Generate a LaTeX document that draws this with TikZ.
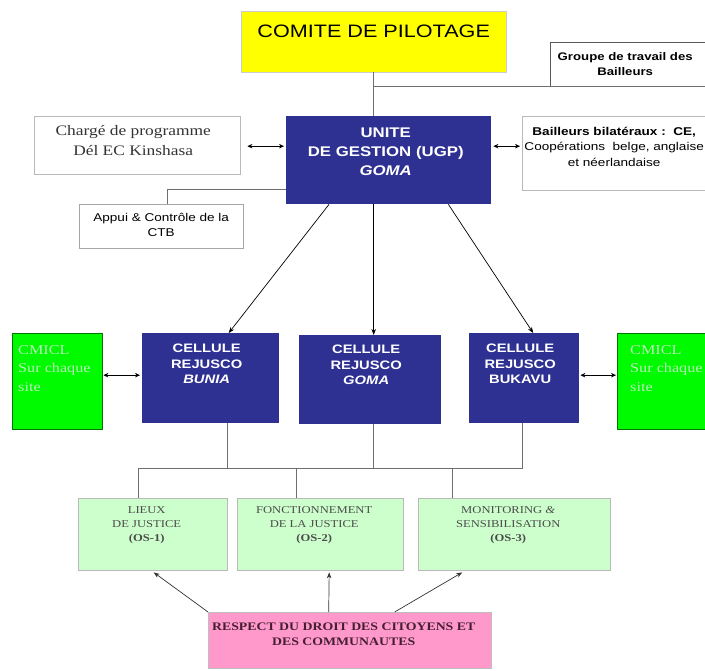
\documentclass[tikz,border=0pt]{standalone}
\usepackage{fontspec}
\setmainfont{Liberation Serif}[FakeStretch=1.2]
\setsansfont{Liberation Sans}[FakeStretch=1.2]
\usepackage{tikz}
\usetikzlibrary{arrows.meta,positioning,calc}

\definecolor{navy}{RGB}{46,49,146}
\definecolor{pilotyellow}{RGB}{255,255,0}
\definecolor{sitegreen}{RGB}{0,250,0}
\definecolor{sitetext}{RGB}{185,240,185}
\definecolor{palegreen}{RGB}{204,255,204}
\definecolor{rosebox}{RGB}{255,153,204}
\definecolor{rosetext}{RGB}{70,30,50}
\definecolor{linegray}{RGB}{110,110,110}

\begin{document}
\begin{tikzpicture}[
  x=1pt, y=-1pt,
  box/.style={rectangle, anchor=north west, inner sep=0pt},
  navybox/.style={box, fill=navy},
  whitebox/.style={box, draw=gray!55, fill=white},
  sitebox/.style={box, fill=sitegreen, draw=green!45!black},
  osbox/.style={box, fill=palegreen, draw=gray!55, minimum height=72pt},
  txt/.style={inner sep=0pt, align=center},
  navytxt/.style={txt, text=white, font=\sffamily\bfseries\fontsize{12.3}{15.5}\selectfont, xshift=-4pt},
  sitetxt/.style={txt, align=left, text=sitetext, font=\fontsize{13.5}{18.5}\selectfont},
  ostxt/.style={txt, text=black!70, font=\fontsize{10.5}{14}\selectfont, xshift=-6pt},
  link/.style={draw=linegray, line width=0.8pt},
  arrow/.style={-{Stealth[length=6pt, width=4.5pt]}, line width=0.7pt},
  dblarrow/.style={{Stealth[length=5pt, width=4.5pt]}-{Stealth[length=5pt, width=4.5pt]}, line width=0.7pt},
]
\fill[white] (0,0) rectangle (705,671);
\useasboundingbox (0,0) rectangle (705,671);

% boxes
\node[box, fill=pilotyellow, draw=gray!40, minimum width=265pt, minimum height=61pt] (pilotage) at (241,11) {};
\node[box, draw=gray!70!black, fill=white, minimum width=162pt, minimum height=44pt] (groupe) at (550,42) {};
\node[whitebox, minimum width=206pt, minimum height=58pt] (charge) at (34,116) {};
\node[navybox, minimum width=205pt, minimum height=88pt] (ugp) at (286,116) {};
\node[whitebox, minimum width=190pt, minimum height=74pt] (bailleurs) at (522,116) {};
\node[whitebox, draw=gray!70, minimum width=164pt, minimum height=44pt] (appui) at (79,204) {};
\node[sitebox, minimum width=90pt, minimum height=96pt] (siteL) at (12,333) {};
\node[navybox, minimum width=137pt, minimum height=90pt] (bunia) at (142,333) {};
\node[navybox, minimum width=142pt, minimum height=89pt] (goma) at (299,335) {};
\node[navybox, minimum width=110pt, minimum height=90pt] (bukavu) at (469,333) {};
\node[sitebox, minimum width=95pt, minimum height=96pt] (siteR) at (617,333) {};
\node[osbox, minimum width=149pt] (lieux) at (78,498) {};
\node[osbox, minimum width=166pt] (fonct) at (237,498) {};
\node[osbox, minimum width=192pt] (monit) at (418,498) {};
\node[box, fill=rosebox, draw=gray!50, minimum width=283pt, minimum height=56pt] (droit) at (208,612) {};

% texts
\node[txt, font=\sffamily\fontsize{18}{22}\selectfont, below=14pt of pilotage.north] (pilotagetxt) {COMITE DE PILOTAGE};
\node[txt, font=\sffamily\bfseries\fontsize{11}{15.5}\selectfont, below=10pt of groupe.north, xshift=-6pt] (groupetxt) {Groupe de travail des\\Bailleurs};
\node[txt, text=black!80, font=\fontsize{14.5}{20}\selectfont, below=9pt of charge.north, xshift=-4pt] (chargetxt) {Chargé de programme\\Dél EC Kinshasa};
\node[txt, text=white, font=\sffamily\bfseries\fontsize{14}{19}\selectfont, below=12pt of ugp.north, xshift=-3pt] (ugptxt) {UNITE\\DE GESTION (UGP)\\\textit{GOMA}};
\node[txt, font=\sffamily\fontsize{11.3}{15.5}\selectfont, below=11pt of bailleurs.north, xshift=-3pt] (bailleurstxt) {\textbf{Bailleurs bilatéraux :~~CE,}\\Coopérations~~belge, anglaise\\et néerlandaise};
\node[txt, font=\sffamily\fontsize{11.3}{15}\selectfont, below=9pt of appui.north] (appuitxt) {Appui \& Contrôle de la\\CTB};
\node[sitetxt, below right=12pt and 6pt of siteL.north west] (siteLtxt) {CMICL\\Sur chaque\\site};
\node[navytxt, below=11pt of bunia.north] (buniatxt) {CELLULE\\REJUSCO\\\textit{BUNIA}};
\node[navytxt, below=10pt of goma.north] (gomatxt) {CELLULE\\REJUSCO\\\textit{GOMA}};
\node[navytxt, below=11pt of bukavu.north] (bukavutxt) {CELLULE\\REJUSCO\\BUKAVU};
\node[sitetxt, below right=12pt and 13pt of siteR.north west] (siteRtxt) {CMICL\\Sur chaque\\site};
\node[ostxt, below=8pt of lieux.north] (lieuxtxt) {LIEUX\\DE JUSTICE\\\textbf{(OS-1)}};
\node[ostxt, below=8pt of fonct.north] (foncttxt) {FONCTIONNEMENT\\DE LA JUSTICE\\\textbf{(OS-2)}};
\node[ostxt, below=8pt of monit.north] (monittxt) {MONITORING \textit{\&}\\SENSIBILISATION\\\textbf{(OS-3)}};
\node[txt, text=rosetext, font=\bfseries\fontsize{11.5}{15}\selectfont, below=11pt of droit.north, xshift=-6pt] (droittxt) {RESPECT DU DROIT DES CITOYENS ET\\DES COMMUNAUTES};

% top links
\draw[link] (pilotage.south) -- (pilotage.south |- ugp.north);
\draw[link] (pilotage.south |- groupe.south) -- (groupe.south east);
\draw[dblarrow] ($(charge.east)+(7,1)$) -- ($(ugp.west |- charge.east)+(-2,1)$);
\draw[dblarrow] ($(ugp.east |- charge.east)+(2,1)$) -- ($(bailleurs.west |- charge.east)+(-2,1)$);
\draw[link] ([yshift=15pt]ugp.south west) -| ([xshift=6pt]appui.north);

% UGP to cells
\draw[arrow] ([xshift=43pt]ugp.south west) -- ([xshift=18pt]bunia.north);
\draw[arrow] (pilotage.south |- ugp.south) -- (pilotage.south |- goma.north);
\draw[arrow] ([xshift=-43pt]ugp.south east) -- ([xshift=9pt]bukavu.north);
\draw[dblarrow] ($(siteL.east)+(1,-6)$) -- ($(bunia.west |- siteL.east)+(-2,-6)$);
\draw[dblarrow] ($(bukavu.east |- siteR.east)+(1,-6)$) -- ($(siteR.west)+(-1,-6)$);

% cells to objectives
\coordinate (busL) at (138,468);
\coordinate (busR) at (522,468);
\draw[link] (busL) -- (busR);
\draw[link] ($(bunia.south)+(17,0)$) |- (busL);
\draw[link] ($(goma.south)+(3,0)$) -- ($(goma.south |- busL)+(3,0)$);
\draw[link] ($(bukavu.south)+(-2,0)$) |- (busR);
\draw[link] (busL) -- (busL |- lieux.north);
\draw[link] ($(fonct.north)+(-24,0)$) |- (busL);
\draw[link] ($(monit.north)+(-62,0)$) |- (busR);

% rights to objectives
\draw[arrow, draw=black!80] (droit.north west) -- ($(lieux.south)+(1,2)$);
\draw[arrow, draw=black!80] ($(droit.north)+(-21,0)$) -- ($(fonct.south)+(9,2)$);
\draw[arrow, draw=black!80] ($(droit.north)+(45,0)$) -- ($(monit.south)+(-52,2)$);
\end{tikzpicture}
\end{document}
